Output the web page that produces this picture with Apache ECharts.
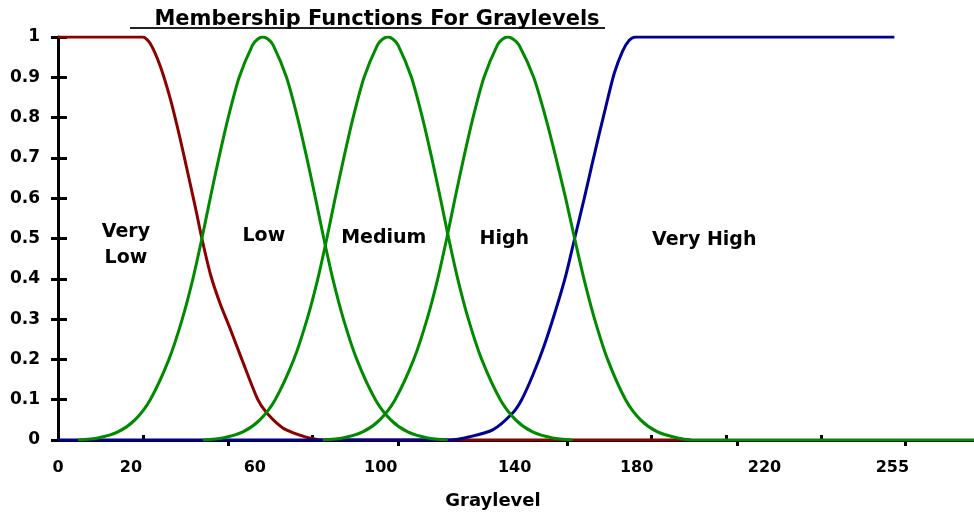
<!DOCTYPE html>
<html>
<head>
<meta charset="utf-8">
<title>Membership Functions For Graylevels</title>
<script src="https://cdn.jsdelivr.net/npm/echarts@6.0.0/dist/echarts.min.js"></script>
<style>
  html, body { margin: 0; padding: 0; background: #fff; }
  #chart { width: 974px; height: 520px; }
</style>
</head>
<body>
<div id="chart"></div>
<script>
// x values are graylevels as drawn on the original (0..255 spans the tick row)
const veryLow = [[0, 1], [25.5, 1], [27.6, 0.985], [30.6, 0.93], [33.6, 0.85], [36.6, 0.75], [39.3, 0.65],
  [41.3, 0.575], [43.2, 0.5], [45.8, 0.41], [48.6, 0.34], [51.5, 0.28], [55.2, 0.2], [60, 0.1], [62.7, 0.067],
  [67.5, 0.03], [72.6, 0.012], [76.5, 0.003], [80, 0], [190, 0]]
const low = [[6, 0], [12, 0.005], [18, 0.02], [23.1, 0.05], [27.7, 0.1], [33.3, 0.2], [37.3, 0.3], [40.5, 0.4],
  [43.2, 0.5], [45.7, 0.6], [48.3, 0.7], [51.1, 0.8], [54.4, 0.9], [58.4, 0.98], [60, 0.995], [61.5, 1],
  [63, 0.995], [64.6, 0.98], [68.6, 0.9], [71.9, 0.8], [74.7, 0.7], [77.3, 0.6], [79.8, 0.5], [82.5, 0.4],
  [85.7, 0.3], [89.7, 0.2], [95.3, 0.1], [99.9, 0.05], [105, 0.02], [111, 0.005], [117, 0]]
const medium = [[43.5, 0], [49.5, 0.005], [55.5, 0.02], [60.6, 0.05], [65.2, 0.1], [70.8, 0.2], [74.8, 0.3], [78, 0.4],
  [80.7, 0.5], [83.2, 0.6], [85.8, 0.7], [88.6, 0.8], [91.9, 0.9], [95.9, 0.98], [97.5, 0.995], [99, 1],
  [100.5, 0.995], [102.1, 0.98], [106.1, 0.9], [109.4, 0.8], [112.2, 0.7], [114.8, 0.6], [117.3, 0.5], [120, 0.4],
  [123.2, 0.3], [127.2, 0.2], [132.8, 0.1], [137.4, 0.05], [142.5, 0.02], [148.5, 0.005], [154.5, 0]]
const high = [[79.5, 0], [85.5, 0.005], [91.5, 0.02], [96.6, 0.05], [101.2, 0.1], [106.8, 0.2], [110.8, 0.3], [114, 0.4],
  [116.7, 0.5], [119.2, 0.6], [121.8, 0.7], [124.6, 0.8], [127.9, 0.9], [131.9, 0.98], [133.5, 0.995], [135, 1],
  [136.6, 0.995], [138.4, 0.98], [142.8, 0.9], [146.4, 0.8], [149.5, 0.7], [152.4, 0.6], [155.1, 0.5], [157.9, 0.4],
  [161.1, 0.3], [165, 0.2], [170.4, 0.1], [174.9, 0.05], [180, 0.02], [186, 0.005], [190.5, 0], [275, 0]]
const veryHigh = [[0, 0], [117.6, 0], [123.6, 0.008], [130.5, 0.025], [136.5, 0.067], [139.2, 0.1], [142.5, 0.16],
  [146, 0.235], [149.7, 0.33], [152.5, 0.41], [155.1, 0.5], [158, 0.6], [160.5, 0.69], [162.5, 0.76],
  [164.7, 0.835], [167, 0.91], [169.5, 0.965], [171.5, 0.992], [173.4, 1], [251.1, 1]]

// tick labels as printed and where they sit on the axis
const xLabelText = ['0', '20', '60', '100', '140', '180', '220', '255']
const xLabelAt = [0, 21.9, 59.1, 96.9, 137.1, 173.7, 212.1, 250.5]
const tickBelowAt = [51, 102, 153, 204, 254.4]
const tickAboveAt = [25.5, 76.2, 178.2, 200.7, 229.2]

// class names written inside the plot
const classNames = ['Very\nLow', 'Low', 'Medium', 'High', 'Very High']
const classLabelAt = [[20.4, 0.484], [61.8, 0.506], [97.8, 0.501], [134, 0.499], [194, 0.496]]

const FONT = '"DejaVu Sans", Verdana, sans-serif'
const RED = '#8c0000'
const GREEN = '#008a00'
const BLUE = '#000094'

function curve (name, data, color) {
  return {
    name: name,
    type: 'line',
    data: data,
    showSymbol: false,
    smooth: 0.25,
    lineStyle: { color: color, width: 3 },
    itemStyle: { color: color },
    silent: true
  }
}

var myChart = echarts.init(document.getElementById('chart'), null, { renderer: 'canvas' })
myChart.setOption({
  animation: false,
  backgroundColor: '#fff',
  title: {
    text: 'Membership Functions For Graylevels',
    left: 372,
    top: 4,
    textAlign: 'center',
    textStyle: { fontFamily: FONT, fontWeight: 'bold', fontSize: 21, color: '#000' }
  },
  graphic: [
    {
      type: 'line',
      shape: { x1: 130, y1: 28, x2: 605, y2: 28 },
      style: { stroke: '#222', lineWidth: 2 }
    }
  ],
  grid: { left: 58, right: 0, top: 37, bottom: 80, containLabel: false },
  xAxis: [
    {
      type: 'value',
      min: 0,
      max: 275,
      name: 'Graylevel',
      nameLocation: 'middle',
      nameGap: 52,
      nameTextStyle: { fontFamily: FONT, fontWeight: 'bold', fontSize: 18, color: '#000', padding: [0, 46, 0, 0] },
      axisLine: { show: true, lineStyle: { color: '#000', width: 3 } },
      axisTick: { show: true, customValues: tickBelowAt, length: 6, lineStyle: { color: '#000', width: 3 } },
      axisLabel: {
        customValues: xLabelAt,
        margin: 20,
        fontFamily: FONT,
        fontWeight: 'bold',
        fontSize: 16,
        color: '#000',
        formatter: function (v) {
          var i = xLabelAt.indexOf(v)
          return i >= 0 ? xLabelText[i] : ''
        }
      },
      splitLine: { show: false }
    },
    {
      type: 'value',
      min: 0,
      max: 275,
      position: 'bottom',
      axisLine: { show: false },
      axisTick: { show: true, inside: true, customValues: tickAboveAt, length: 5, lineStyle: { color: '#000', width: 3 } },
      axisLabel: { show: false },
      splitLine: { show: false }
    }
  ],
  yAxis: [
    {
      type: 'value',
      min: 0,
      max: 1,
      interval: 0.1,
      axisLine: { show: true, lineStyle: { color: '#000', width: 3 } },
      axisTick: { show: true, length: 7, lineStyle: { color: '#000', width: 3 } },
      axisLabel: {
        margin: 18,
        fontFamily: FONT,
        fontWeight: 'bold',
        fontSize: 17,
        color: '#000',
        formatter: function (v) { return String(Math.round(v * 10) / 10) }
      },
      splitLine: { show: false }
    },
    {
      type: 'value',
      min: 0,
      max: 1,
      interval: 0.1,
      position: 'left',
      axisLine: { show: false },
      axisTick: { show: true, inside: true, length: 9, lineStyle: { color: '#000', width: 3 } },
      axisLabel: { show: false },
      splitLine: { show: false }
    }
  ],
  series: [
    curve('Very Low', veryLow, RED),
    curve('Very High', veryHigh, BLUE),
    curve('Low', low, GREEN),
    curve('Medium', medium, GREEN),
    curve('High', high, GREEN),
    {
      name: 'classes',
      type: 'scatter',
      symbolSize: 0,
      silent: true,
      z: 5,
      itemStyle: { opacity: 1 },
      data: classNames.map(function (n, i) { return { name: n, value: classLabelAt[i] } }),
      label: {
        show: true,
        position: 'inside',
        formatter: function (p) { return p.name },
        fontFamily: FONT,
        fontWeight: 'bold',
        fontSize: 19,
        lineHeight: 26,
        align: 'center',
        color: '#000',
        opacity: 1
      }
    }
  ]
})
</script>
</body>
</html>
